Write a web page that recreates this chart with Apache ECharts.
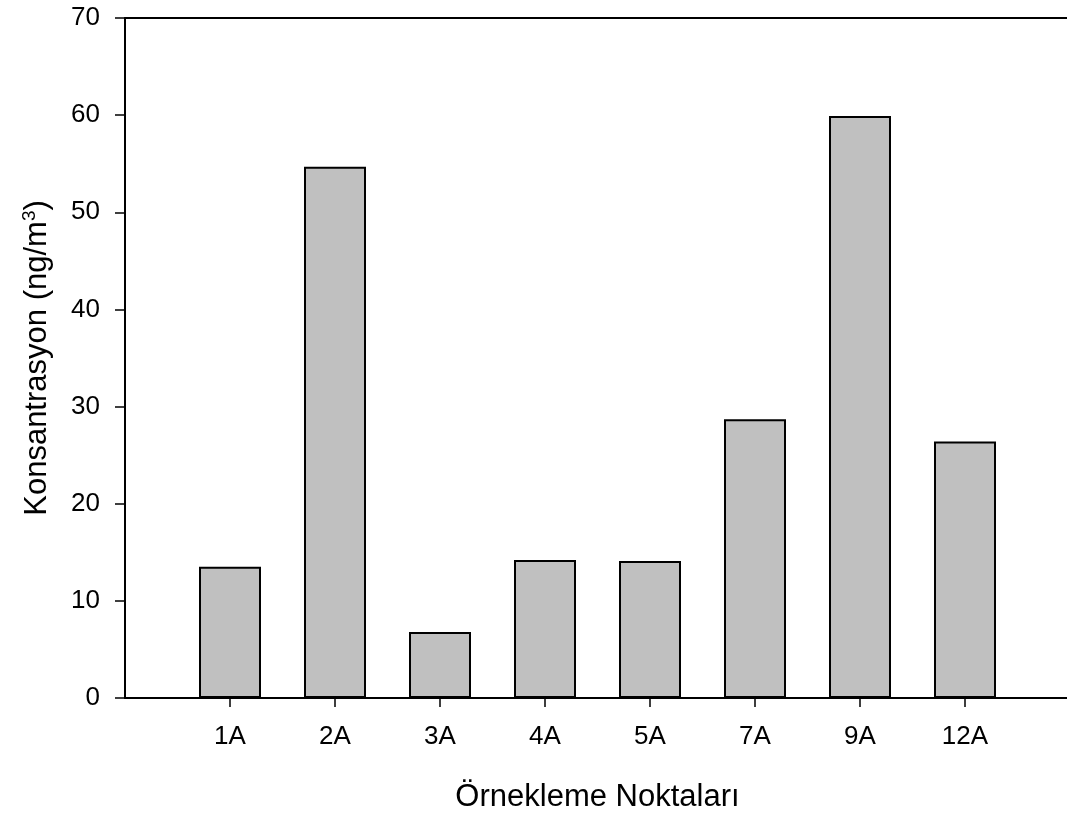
<!DOCTYPE html>
<html>
<head>
<meta charset="utf-8">
<script src="https://cdn.jsdelivr.net/npm/echarts@6/dist/echarts.min.js"></script>
<style>
html,body{margin:0;padding:0;background:#fff;}
#chart{width:1067px;height:814px;}
</style>
</head>
<body>
<div id="chart"></div>
<script>
var categories = ['1A', '2A', '3A', '4A', '5A', '7A', '9A', '12A'];
var positions = [1, 2, 3, 4, 5, 6, 7, 8];
var values = [13.5, 54.7, 6.8, 14.2, 14.1, 28.7, 59.9, 26.4];
var yTicks = [0, 10, 20, 30, 40, 50, 60, 70];

var font = "'Liberation Sans', Arial, sans-serif";
var chart = echarts.init(document.getElementById('chart'), null, {renderer: 'canvas'});
var barData = positions.map(function (p, i) { return [p, values[i]]; });

chart.setOption({
  animation: false,
  backgroundColor: '#ffffff',
  grid: {left: 125, top: 18, width: 945, bottom: 116, containLabel: false, outerBoundsMode: 'none'},
  xAxis: [{
    type: 'value',
    min: 0, max: 9, interval: 1,
    position: 'bottom',
    name: 'Örnekleme Noktaları',
    nameLocation: 'middle',
    nameGap: 84,
    nameTextStyle: {fontFamily: font, fontSize: 31, color: '#000'},
    axisLine: {show: true, onZero: false, lineStyle: {color: '#000', width: 2}},
    axisTick: {show: true, length: 9, lineStyle: {color: '#000', width: 1.5}, customValues: positions},
    axisLabel: {
      fontFamily: font, fontSize: 26, color: '#000', margin: 26,
      customValues: positions,
      formatter: function (v) { var i = positions.indexOf(Math.round(v)); return i >= 0 ? categories[i] : ''; }
    },
    splitLine: {show: false}
  }, {
    type: 'value',
    min: 0, max: 9,
    position: 'top',
    axisLine: {show: true, onZero: false, lineStyle: {color: '#000', width: 2}},
    axisTick: {show: false},
    axisLabel: {show: false},
    splitLine: {show: false}
  }],
  yAxis: {
    type: 'value',
    min: 0, max: 70, interval: 10,
    name: 'Konsantrasyon (ng/m{sup|3})',
    nameLocation: 'middle',
    nameGap: 70,
    nameRotate: 90,
    nameTextStyle: {
      fontFamily: font, fontSize: 31, color: '#000',
      rich: {sup: {fontFamily: font, fontSize: 19, color: '#000', verticalAlign: 'top', padding: [0, 0, 16, 0]}}
    },
    axisLine: {show: true, onZero: false, lineStyle: {color: '#000', width: 2}},
    axisTick: {show: true, length: 10, lineStyle: {color: '#000', width: 1.5}},
    axisLabel: {fontFamily: font, fontSize: 26, color: '#000', margin: 25,
      formatter: function (v) { return yTicks.indexOf(v) >= 0 ? String(v) : ''; }},
    splitLine: {show: false}
  },
  series: [{
    type: 'bar',
    xAxisIndex: 0,
    data: barData,
    barWidth: 62,
    itemStyle: {color: '#c0c0c0', borderColor: '#000', borderWidth: 2}
  }]
});
</script>
</body>
</html>
